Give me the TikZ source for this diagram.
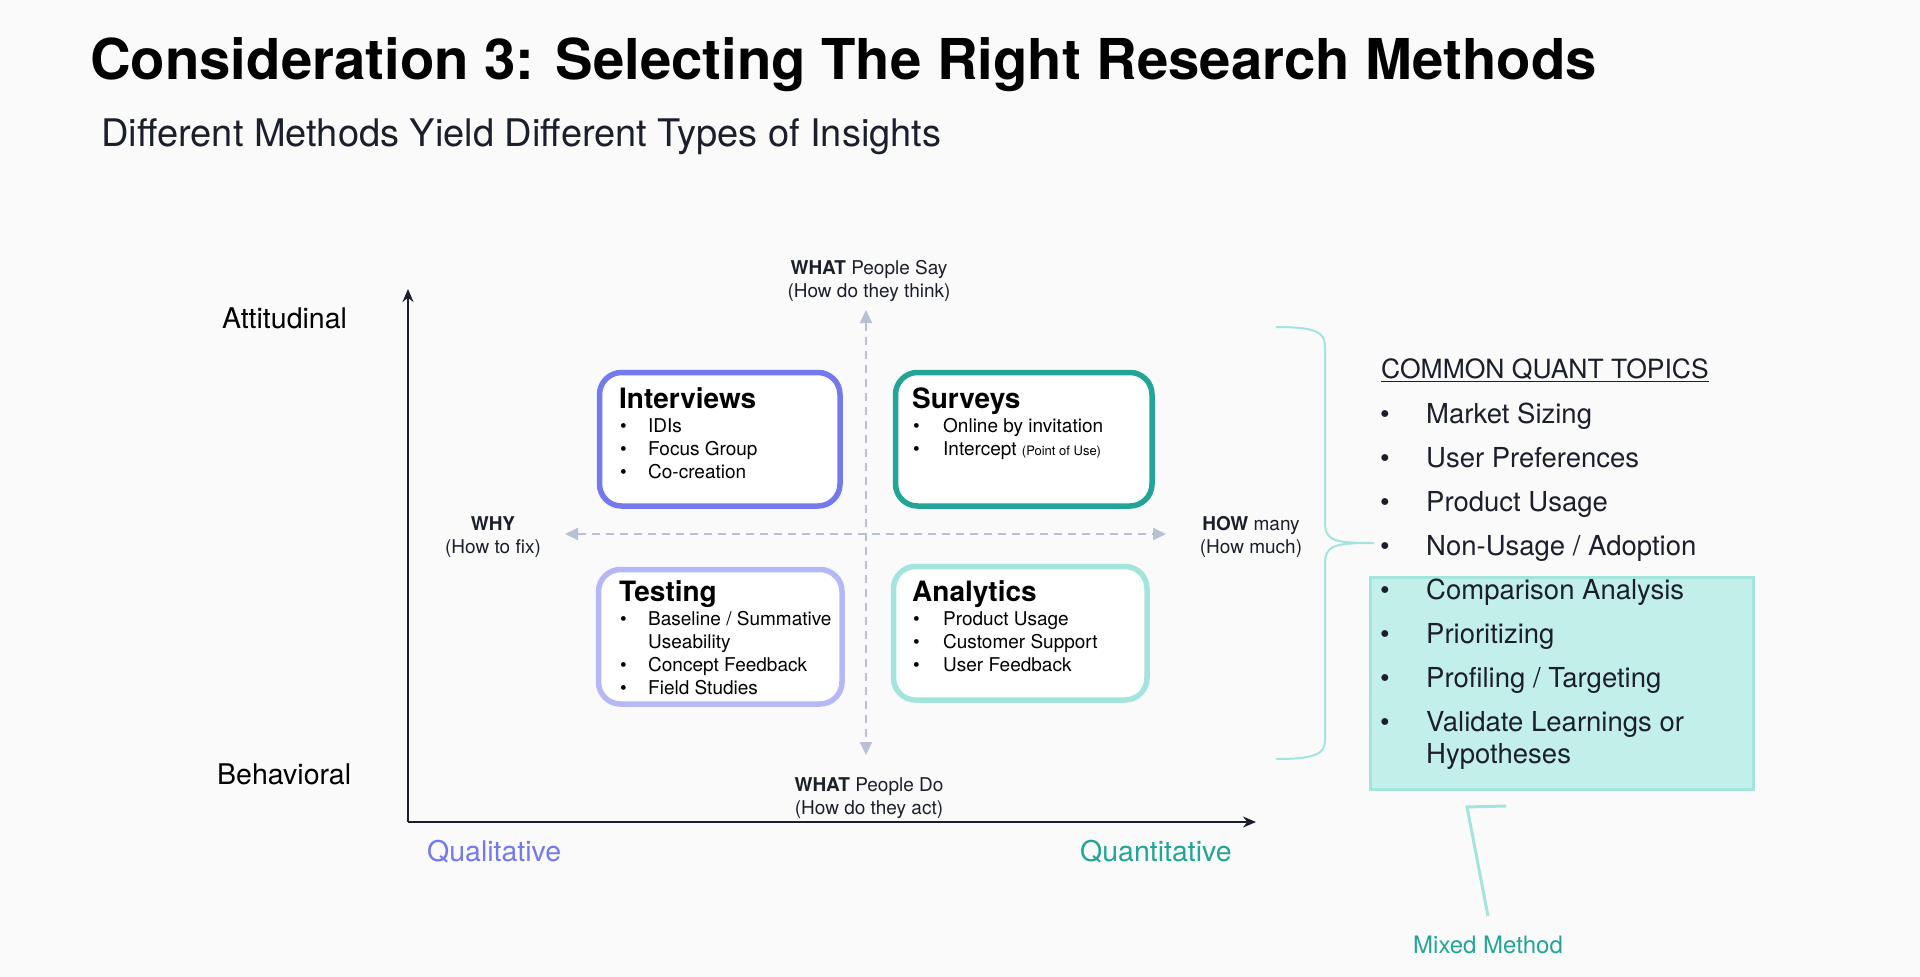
\documentclass[tikz,border=0pt]{standalone}
\usepackage{fontspec}
\setmainfont{TeX Gyre Heros}
\usetikzlibrary{arrows.meta}
\definecolor{bgcol}{HTML}{FAFAFA}
\definecolor{ink}{HTML}{1B1F2B}
\definecolor{qualcol}{HTML}{7479EE}
\definecolor{quantcol}{HTML}{22A596}
\definecolor{testcol}{HTML}{B5B8F5}
\definecolor{anacol}{HTML}{A3E5DD}
\definecolor{dashcol}{HTML}{B8C1D3}
\definecolor{mixfill}{HTML}{C3EFEB}
\definecolor{mixline}{HTML}{A3E4DC}
\tikzset{
  methodbox/.style={draw,line width=5.5pt,rounded corners=22pt,fill=white,anchor=north west,inner sep=0},
  boxtitle/.style={anchor=base west,inner sep=0,text=black,font=\fontsize{28}{30}\selectfont\bfseries},
  boxitems/.style={anchor=base west,inner sep=0,text=black,font=\fontsize{19}{23}\selectfont},
  axislabel/.style={anchor=base,inner sep=0,text=ink,align=center,font=\fontsize{19}{23}\selectfont},
  sidelabel/.style={anchor=base west,inner sep=0,font=\fontsize{28.5}{30}\selectfont}
}
\begin{document}
\begin{tikzpicture}[x=1pt,y=-1pt]
\fill[bgcol] (0,0) rectangle (1920,977);
\useasboundingbox (0,0) rectangle (1920,977);

\node[anchor=base west,inner sep=0,font=\fontsize{56.3}{60}\selectfont\bfseries] (title) at (90,79) {Consideration 3: Selecting The Right Research Methods};
\node[anchor=base west,inner sep=0,text=ink,font=\fontsize{38}{40}\selectfont] (subtitle) at (101,146) {Different Methods Yield Different Types of Insights};

\coordinate (origin) at (408,822);
\coordinate (ytop) at (408,289);
\coordinate (xend) at (1256,822);
\coordinate (dtop) at (866,310);
\coordinate (dbot) at (866,755);
\coordinate (dleft) at (565,534);
\coordinate (dright) at (1166,534);
\begin{scope}[every edge/.style={draw=ink,line width=2pt,-{Stealth[length=13pt,width=11pt]}}]
\path (origin) edge (ytop)
      (origin) edge (xend);
\end{scope}
\begin{scope}[every edge/.style={draw=dashcol,line width=2pt,dash pattern=on 8pt off 6pt,{Triangle[length=13pt,width=12pt]}-{Triangle[length=13pt,width=12pt]}}]
\path (dtop) edge (dbot)
      (dleft) edge (dright);
\end{scope}

\begin{scope}[every node/.style=sidelabel]
\node (att) at (222,328) {Attitudinal};
\node (beh) at (217,784) {Behavioral};
\node[text=qualcol] (qual) at (427,861) {Qualitative};
\node[text=quantcol] (quant) at (1080,861) {Quantitative};
\end{scope}

\begin{scope}[every node/.style=axislabel]
\node (say) at (869,297) {\textbf{WHAT} People Say\\(How do they think)};
\node (do) at (869,814) {\textbf{WHAT} People Do\\(How do they act)};
\node (why) at (493,553) {\textbf{WHY}\\(How to fix)};
\node (how) at (1251,553) {\textbf{HOW} many\\(How much)};
\end{scope}

\node[methodbox,draw=qualcol,minimum width=240.5pt,minimum height=133.5pt] (interviews) at (596.75,369.75) {};
\node[methodbox,draw=quantcol,minimum width=256.5pt,minimum height=133.5pt] (surveys) at (892.75,369.75) {};
\node[methodbox,draw=testcol,minimum width=243.5pt,minimum height=134.5pt] (testing) at (595.75,566.75) {};
\node[methodbox,draw=anacol,minimum width=253.5pt,minimum height=133.5pt] (analytics) at (890.75,563.75) {};

\node[boxtitle] (ivtitle) at (619,408) {Interviews};
\node[boxitems] (ivlist) at (620,432) {\begin{tabular}[t]{@{}p{28pt}@{}l@{}}\textbullet&IDIs\\ \textbullet&Focus Group\\ \textbullet&Co-creation\end{tabular}};
\node[boxtitle] (svtitle) at (912,408) {Surveys};
\node[boxitems] (svlist) at (913,432) {\begin{tabular}[t]{@{}p{30pt}@{}l@{}}\textbullet&Online by invitation\\ \textbullet&Intercept {\fontsize{13}{15}\selectfont(Point of Use)}\end{tabular}};
\node[boxtitle] (tstitle) at (619,601) {Testing};
\node[boxitems] (tslist) at (620,625) {\begin{tabular}[t]{@{}p{28pt}@{}l@{}}\textbullet&Baseline / Summative\\ &Useability\\ \textbullet&Concept Feedback\\ \textbullet&Field Studies\end{tabular}};
\node[boxtitle] (antitle) at (912,601) {Analytics};
\node[boxitems] (anlist) at (913,625) {\begin{tabular}[t]{@{}p{30pt}@{}l@{}}\textbullet&Product Usage\\ \textbullet&Customer Support\\ \textbullet&User Feedback\end{tabular}};

\coordinate (btop) at (1276,327);
\coordinate (bbot) at (1276,759);
\coordinate (btip) at (1374,543);
\draw[mixline,line width=2pt] (btop) .. controls (1318,327) and (1325,333) .. (1325,347) -- (1325,522) .. controls (1325,541) and (1334,543) .. (btip) .. controls (1334,543) and (1325,545) .. (1325,564) -- (1325,740) .. controls (1325,753) and (1318,759) .. (bbot);

\node[draw=mixline,fill=mixfill,line width=3pt,anchor=north west,inner sep=0,minimum width=383pt,minimum height=212pt] (mixbox) at (1368.5,575.5) {};
\node[anchor=base west,inner sep=0,text=ink,font=\fontsize{26.5}{30}\selectfont] (topics) at (1381,378) {\underline{COMMON QUANT TOPICS}};
\node[anchor=base west,inner sep=0,text=ink,font=\fontsize{27.5}{32}\selectfont] (topiclist) at (1380,423) {\begin{tabular}[t]{@{}p{46pt}@{}l@{}}\textbullet&Market Sizing\\[12pt] \textbullet&User Preferences\\[12pt] \textbullet&Product Usage\\[12pt] \textbullet&Non-Usage / Adoption\\[12pt] \textbullet&Comparison Analysis\\[12pt] \textbullet&Prioritizing\\[12pt] \textbullet&Profiling / Targeting\\[12pt] \textbullet&Validate Learnings or\\ &Hypotheses\end{tabular}};

\node[anchor=base west,inner sep=0,text=quantcol,font=\fontsize{24}{28}\selectfont] (mixed) at (1413,953) {Mixed Method};
\coordinate (mtop) at (1506,806);
\coordinate (mcorner) at (1467,807);
\coordinate (mbot) at (1488,916);
\draw[mixline,line width=3pt] (mtop) -- (mcorner) -- (mbot);
\end{tikzpicture}
\end{document}
